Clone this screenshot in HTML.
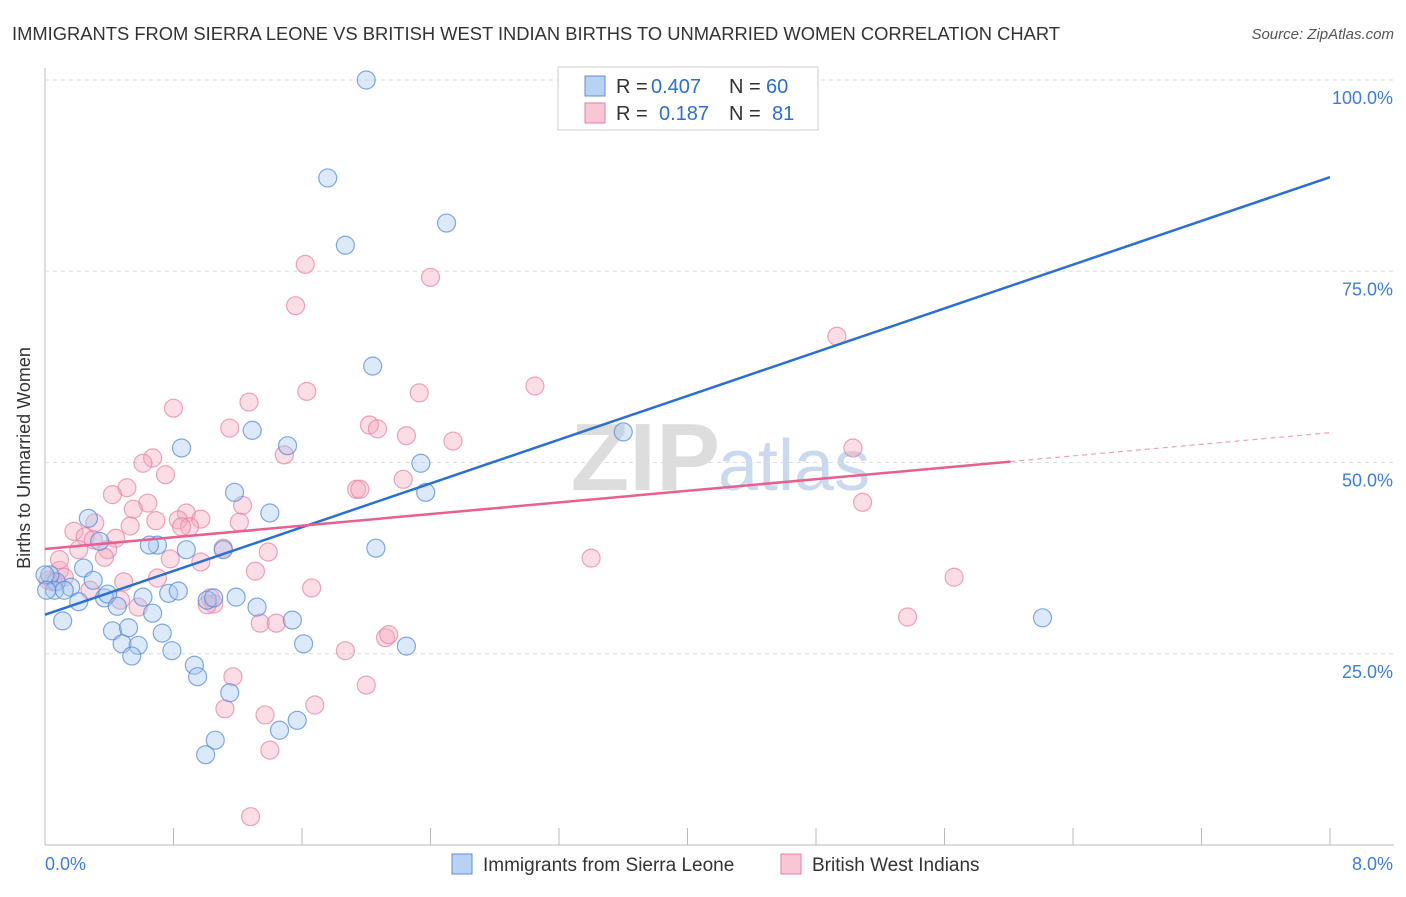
<!DOCTYPE html>
<html><head><meta charset="utf-8"><style>
body{margin:0;background:#fff;font-family:"Liberation Sans",sans-serif;}
svg text{font-family:"Liberation Sans",sans-serif;}
</style></head><body>
<svg id="c" width="1406" height="892">
<text x="12" y="40" font-size="18" fill="#333" textLength="1048" lengthAdjust="spacingAndGlyphs">IMMIGRANTS FROM SIERRA LEONE VS BRITISH WEST INDIAN BIRTHS TO UNMARRIED WOMEN CORRELATION CHART</text>
<text x="1394" y="39" font-size="15" fill="#555" text-anchor="end" font-style="italic">Source: ZipAtlas.com</text>
<text x="720" y="490" font-size="96" fill="#ddd" text-anchor="end" font-family="Liberation Serif" font-weight="bold">ZIP</text>
<text x="718" y="490" font-size="72" fill="#c9daf0">atlas</text>
<g id="grid"></g><g id="marks"></g>
<text x="30" y="458" font-size="18" fill="#333" text-anchor="middle" transform="rotate(-90 30 458)">Births to Unmarried Women</text>
<g>
<rect x="558" y="67" width="260" height="63" fill="#fff" stroke="#ccc"/>
<rect x="585" y="76" width="20" height="20" fill="#b8d2f4" stroke="#5b8fd8"/>
<rect x="585" y="103" width="20" height="20" fill="#f8c6d4" stroke="#e87fa0"/>
<text x="616" y="93" font-size="20" fill="#333">R =</text>
<text x="651" y="93" font-size="20" fill="#2a6fd6">0.407</text>
<text x="729" y="93" font-size="20" fill="#333">N =</text>
<text x="766" y="93" font-size="20" fill="#2a6fd6">60</text>
<text x="616" y="120" font-size="20" fill="#333">R =</text>
<text x="659" y="120" font-size="20" fill="#2a6fd6">0.187</text>
<text x="729" y="120" font-size="20" fill="#333">N =</text>
<text x="772" y="120" font-size="20" fill="#2a6fd6">81</text>
</g>
<g>
<rect x="452" y="854" width="20" height="20" fill="#b8d2f4" stroke="#5b8fd8"/>
<text x="483" y="871" font-size="19" fill="#333">Immigrants from Sierra Leone</text>
<rect x="781" y="854" width="20" height="20" fill="#f8c6d4" stroke="#e87fa0"/>
<text x="812" y="871" font-size="19" fill="#333">British West Indians</text>
</g>
</svg>
<script>
const blueX=[2.00,1.76,1.87,2.50,2.04,3.60,1.29,1.51,0.85,2.34,2.37,1.18,1.40,0.27,2.06,0.70,0.65,0.88,1.11,0.34,0.24,0.30,0.16,0.07,0.03,0.06,0.12,0.21,0.37,0.39,0.45,0.61,0.77,0.83,1.01,1.05,1.19,1.32,1.54,0.67,0.11,0.42,0.52,0.73,0.48,0.58,0.54,0.79,1.61,2.25,0.93,0.95,1.15,1.46,1.57,1.06,1.00,6.21,0.00,0.01];
const blueY=[100.0,87.2,78.4,81.3,62.6,54.0,54.2,52.2,51.9,49.9,46.1,46.1,43.4,42.7,38.8,39.2,39.2,38.6,38.6,39.7,36.2,34.6,33.7,34.4,35.3,33.3,33.3,31.8,32.3,32.8,31.2,32.4,32.9,33.2,32.0,32.3,32.4,31.1,29.4,30.3,29.3,28.0,28.4,27.7,26.3,26.1,24.7,25.4,26.3,26.0,23.5,22.0,19.9,15.0,16.3,13.7,11.8,29.7,35.3,33.3];
const pinkX=[1.62,2.40,1.56,4.93,1.63,3.05,2.33,0.80,1.27,1.15,2.02,2.07,2.25,2.54,1.49,5.03,0.67,0.61,0.75,1.94,1.96,2.23,0.51,0.42,0.64,1.23,5.09,0.55,0.88,0.69,0.83,0.97,1.21,0.31,0.53,0.18,0.90,0.85,0.25,0.44,0.30,1.39,0.21,0.39,0.37,0.78,0.97,3.40,1.11,1.31,0.70,5.66,1.66,0.09,0.12,0.05,0.02,0.28,0.47,0.58,1.03,1.05,1.01,5.37,1.34,1.44,2.12,2.14,1.87,1.17,2.00,1.12,1.37,1.68,1.40,1.28,0.49,0.09];
const pinkY=[75.9,74.2,70.5,66.5,59.3,60.0,59.1,57.1,57.9,54.5,54.9,54.4,53.5,52.8,51.0,51.9,50.6,49.9,48.4,46.5,46.5,47.8,46.7,45.8,44.7,44.4,44.8,43.9,43.4,42.4,42.5,42.6,42.2,42.1,41.7,41.0,41.6,41.6,40.3,40.1,39.9,38.3,38.6,38.6,37.6,37.4,37.0,37.5,38.8,35.8,34.9,35.0,33.6,35.9,35.0,34.4,34.6,33.3,32.0,31.1,32.3,31.5,31.4,29.8,29.0,29.0,27.1,27.5,25.4,22.0,20.9,17.8,17.0,18.3,12.4,3.7,34.4,37.3];
const blueTrend=[30.1,87.3];
const pinkTrend=[38.7,53.9];
const pinkSolidEnd=6.01;
const yTicks=[25,50,75,100];
const yTickLabels=["25.0%","50.0%","75.0%","100.0%"];
const xTicks=[0,0.8,1.6,2.4,3.2,4.0,4.8,5.6,6.4,7.2,8.0];

const NS="http://www.w3.org/2000/svg";
const sx=v=>45+v/8*1285;
const sy=v=>845-v/100*765;
function mk(p,t,a){const e=document.createElementNS(NS,t);for(const k in a)e.setAttribute(k,a[k]);p.appendChild(e);return e;}
const g=document.getElementById('grid'),m=document.getElementById('marks');
let ax=mk(g,'line',{x1:45,y1:68,x2:45,y2:845,stroke:'#bbb'});


let bx=mk(g,'line',{x1:45,y1:845,x2:1394,y2:845,stroke:'#bbb'});


yTicks.forEach((t,i)=>{
  const l=mk(g,'line',{x1:45,y1:sy(t),x2:1394,y2:sy(t),stroke:'#ddd','stroke-dasharray':'4 4'});
  
  
  const tx=mk(g,'text',{x:1393,y:sy(t)+24,'font-size':18,fill:'#3b7de0','text-anchor':'end'});
  tx.textContent=yTickLabels[i];
  
  
});
xTicks.forEach(t=>{
  const l=mk(g,'line',{x1:sx(t),y1:828,x2:sx(t),y2:845,stroke:'#bbb'});
  
  
});
let x0=mk(g,'text',{x:45,y:870,'font-size':18,fill:'#3b7de0'});x0.textContent='0.0%';


let x8=mk(g,'text',{x:1393,y:870,'font-size':18,fill:'#3b7de0','text-anchor':'end'});x8.textContent='8.0%';


function pts(X,Y,fill,stroke,name){X.forEach((x,i)=>{
  const c=mk(m,'circle',{cx:sx(x),cy:sy(Y[i]),r:9,fill:fill,'fill-opacity':0.4,stroke:stroke,'stroke-opacity':0.7,'stroke-width':1.2});
  
  
});}
pts(pinkX,pinkY,'#f4aac0','#e87fa0','pink-point');
pts(blueX,blueY,'#a8c8f0','#4f86d6','blue-point');
let bl=mk(m,'line',{x1:sx(0),y1:sy(blueTrend[0]),x2:sx(8),y2:sy(blueTrend[1]),stroke:'#2a6fd6','stroke-width':2.5});


const pAt=x=>pinkTrend[0]+(pinkTrend[1]-pinkTrend[0])*x/8;
let pl=mk(m,'line',{x1:sx(0),y1:sy(pAt(0)),x2:sx(pinkSolidEnd),y2:sy(pAt(pinkSolidEnd)),stroke:'#e8608e','stroke-width':2.5});


let pd=mk(m,'line',{x1:sx(pinkSolidEnd),y1:sy(pAt(pinkSolidEnd)),x2:sx(8),y2:sy(pAt(8)),stroke:'#e8608e','stroke-width':1.2,'stroke-dasharray':'5 4','stroke-opacity':0.6});


</script>
</body></html>
